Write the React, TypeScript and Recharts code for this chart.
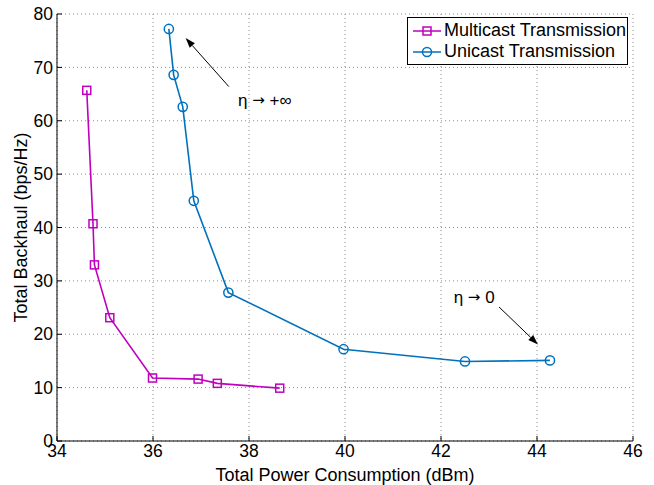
import React from "react";
import {
  LineChart,
  Line,
  XAxis,
  YAxis,
  CartesianGrid,
  Legend,
  ReferenceLine,
  ReferenceDot
} from "recharts";

const multicastPower = [34.62, 34.75, 34.78, 35.1, 35.99, 36.94, 37.34, 38.64];
const multicastBackhaul = [65.7, 40.7, 33.0, 23.1, 11.8, 11.6, 10.8, 9.9];
const unicastPower = [36.33, 36.43, 36.62, 36.85, 37.57, 39.97, 42.5, 44.27];
const unicastBackhaul = [77.2, 68.6, 62.6, 45.0, 27.8, 17.2, 14.9, 15.1];
const xTicks = [34, 36, 38, 40, 42, 44, 46];
const yTicks = [0, 10, 20, 30, 40, 50, 60, 70, 80];

const MAGENTA = "#BF00BF";
const BLUE = "#0072BD";
const FONT = "'Liberation Sans', Arial, sans-serif";
const SYM = "'DejaVu Sans', sans-serif";

const multicast = multicastPower.map((x, i) => ({ x, y: multicastBackhaul[i] }));
const unicast = unicastPower.map((x, i) => ({ x, y: unicastBackhaul[i] }));

const SquareDot = (props: any) => {
  const { cx, cy, index } = props;
  return (
    <rect key={"sq" + index} x={cx - 4} y={cy - 4} width={8} height={8}
      fill="none" stroke={MAGENTA} strokeWidth={1.5} />
  );
};

const CircleDot = (props: any) => {
  const { cx, cy, index } = props;
  return (
    <circle key={"ci" + index} cx={cx} cy={cy} r={4.6}
      fill="none" stroke={BLUE} strokeWidth={1.5} />
  );
};

// line with a small filled head at the end
const Arrow = (props: any) => {
  const { x1, y1, x2, y2 } = props;
  const a = Math.atan2(y2 - y1, x2 - x1);
  const len = 10, w = 3.5;
  const bx = x2 - len * Math.cos(a), by = y2 - len * Math.sin(a);
  const px = -Math.sin(a) * w, py = Math.cos(a) * w;
  return (
    <g>
      <line x1={x1} y1={y1} x2={bx} y2={by} stroke="#000" strokeWidth={1} />
      <polygon points={`${x2},${y2} ${bx + px},${by + py} ${bx - px},${by - py}`} fill="#000" />
    </g>
  );
};

const Note = (tail: string) => (props: any) => (
  <text x={props.cx} y={props.cy} textAnchor="middle" dominantBaseline="central"
    fontSize={17} fontFamily={FONT} fill="#000">
    <tspan>η </tspan>
    <tspan fontFamily={SYM} fontSize={15}>→</tspan>
    <tspan> {tail}</tspan>
  </text>
);

const LegendBox = () => {
  const rows = [
    { name: "Multicast Transmission", color: MAGENTA, square: true },
    { name: "Unicast Transmission", color: BLUE, square: false }
  ];
  return (
    <div style={{ width: 219, height: 44, border: "1px solid #000", background: "#fff",
      fontFamily: FONT, fontSize: 18, paddingTop: 2, boxSizing: "content-box" }}>
      {rows.map((r) => (
        <div key={r.name} style={{ display: "flex", alignItems: "center", height: 21 }}>
          <svg width={34} height={14} style={{ marginLeft: 5 }}>
            <line x1={0} y1={7} x2={28} y2={7} stroke={r.color} strokeWidth={1.5} />
            {r.square
              ? <rect x={10} y={3} width={8} height={8} fill="none" stroke={r.color} strokeWidth={1.5} />
              : <circle cx={14} cy={7} r={4.5} fill="none" stroke={r.color} strokeWidth={1.5} />}
          </svg>
          <span style={{ marginLeft: -3 }}>{r.name}</span>
        </div>
      ))}
    </div>
  );
};

const tickStyle = { fontSize: 17.5, fill: "#000", fontFamily: FONT };

export default function App() {
  return (
    <div style={{ position: "absolute", left: 0, top: 0, background: "#fff" }}>
      <LineChart width={654} height={485} margin={{ top: 14, right: 21, bottom: 0, left: 0 }}
        style={{ fontFamily: FONT }}>
        <CartesianGrid stroke="#8c8c8c" strokeDasharray="1 3" />
        <XAxis dataKey="x" type="number" domain={[34, 46]} ticks={xTicks} height={44}
          allowDataOverflow tickSize={-5} tickMargin={9} tick={tickStyle}
          axisLine={{ stroke: "#000" }} tickLine={{ stroke: "#000" }}
          label={{
            content: (p: any) => {
              const vb = p.viewBox;
              return (
                <text x={vb.x + vb.width / 2} y={vb.y + 40} textAnchor="middle"
                  fontSize={18} fontFamily={FONT} fill="#000">Total Power Consumption (dBm)</text>
              );
            }
          }} />
        <XAxis xAxisId="top" orientation="top" type="number" domain={[34, 46]} ticks={xTicks}
          height={0} tickSize={-5} tickFormatter={() => ""}
          axisLine={{ stroke: "#000" }} tickLine={{ stroke: "#000" }} />
        <YAxis type="number" domain={[0, 80]} ticks={yTicks} width={57} tickSize={-5}
          tickMargin={9} tick={tickStyle} axisLine={{ stroke: "#000" }} tickLine={{ stroke: "#000" }}
          label={{
            content: (p: any) => {
              const vb = p.viewBox;
              const cx = 21, cy = vb.y + vb.height / 2;
              return (
                <text x={cx} y={cy} textAnchor="middle" dominantBaseline="central"
                  transform={`rotate(-90, ${cx}, ${cy})`}
                  fontSize={18} fontFamily={FONT} fill="#000">Total Backhaul (bps/Hz)</text>
              );
            }
          }} />
        <YAxis yAxisId="right" orientation="right" type="number" domain={[0, 80]} ticks={yTicks}
          width={0} tickSize={-5} tickFormatter={() => ""}
          axisLine={{ stroke: "#000" }} tickLine={{ stroke: "#000" }} />
        <Legend layout="horizontal" verticalAlign="middle" align="center"
          wrapperStyle={{ top: 17, left: 407, width: "auto" }} content={() => <LegendBox />} />
        <Line data={multicast} dataKey="y" name="Multicast Transmission" stroke={MAGENTA}
          strokeWidth={1.6} dot={SquareDot} isAnimationActive={false} />
        <Line data={unicast} dataKey="y" name="Unicast Transmission" stroke={BLUE}
          strokeWidth={1.6} dot={CircleDot} isAnimationActive={false} />
        <ReferenceLine segment={[{ x: 37.58, y: 66.4 }, { x: 36.68, y: 75.5 }]} shape={Arrow} />
        <ReferenceLine segment={[{ x: 43.21, y: 25.1 }, { x: 44.02, y: 18.1 }]} shape={Arrow} />
        <ReferenceDot x={38.33} y={63.9} r={0} shape={Note("+∞")} />
        <ReferenceDot x={42.69} y={26.9} r={0} shape={Note("0")} />
      </LineChart>
    </div>
  );
}
